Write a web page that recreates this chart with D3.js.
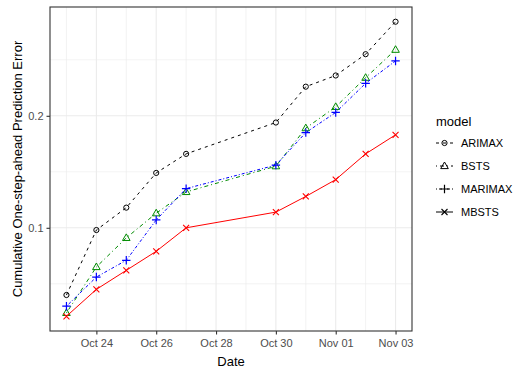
<!DOCTYPE html>
<html>
<head>
<meta charset="utf-8">
<script src="https://cdn.jsdelivr.net/npm/d3@7"></script>
<style>
  body { margin: 0; background: #fff; }
  text { font-family: Arial, "Liberation Sans", sans-serif; }
</style>
</head>
<body>
<script>
// données
const dates = ["2020-10-23", "2020-10-24", "2020-10-25", "2020-10-26", "2020-10-27",
  "2020-10-30", "2020-10-31", "2020-11-01", "2020-11-02", "2020-11-03"];
const arimax  = [0.040, 0.098, 0.118, 0.149, 0.166, 0.194, 0.226, 0.236, 0.255, 0.284];
const bsts    = [0.024, 0.065, 0.091, 0.113, 0.132, 0.155, 0.189, 0.208, 0.234, 0.259];
const marimax = [0.030, 0.056, 0.071, 0.107, 0.135, 0.156, 0.185, 0.203, 0.229, 0.249];
const mbsts   = [0.021, 0.045, 0.062, 0.079, 0.100, 0.114, 0.128, 0.143, 0.166, 0.183];
const xTicks = ["2020-10-24", "2020-10-26", "2020-10-28", "2020-10-30", "2020-11-01", "2020-11-03"];
const yTicks = [0.1, 0.2];
const yMinor = [0.05, 0.15, 0.25];

const parse = d3.utcParse("%Y-%m-%d");

const modeles = [
  { nom: "ARIMAX",  vals: arimax,  couleur: "#000000", tirets: "3,4",     forme: "cercle" },
  { nom: "BSTS",    vals: bsts,    couleur: "#008B00", tirets: "1,3,4,3", forme: "triangle" },
  { nom: "MARIMAX", vals: marimax, couleur: "#0000FF", tirets: "1,2,3,2", forme: "plus" },
  { nom: "MBSTS",   vals: mbsts,   couleur: "#FF0000", tirets: null,      forme: "croix" }
];

const W = 524, H = 373;
const panneau = { g: 50, d: 412, h: 7, b: 331 };

const svg = d3.select("body").append("svg")
  .attr("width", W).attr("height", H);

// échelles avec expansion de 5% comme ggplot
const xDom = d3.extent(dates, parse);
const xPad = (xDom[1] - xDom[0]) * 0.05;
const x = d3.scaleUtc()
  .domain([new Date(+xDom[0] - xPad), new Date(+xDom[1] + xPad)])
  .range([panneau.g, panneau.d]);

const tous = [].concat(arimax, bsts, marimax, mbsts);
const yDom = d3.extent(tous);
const yPad = (yDom[1] - yDom[0]) * 0.05;
const y = d3.scaleLinear()
  .domain([yDom[0] - yPad, yDom[1] + yPad])
  .range([panneau.b, panneau.h]);

// grille
const grille = svg.append("g");
const xMinor = d3.utcDay.range(parse("2020-10-23"), parse("2020-11-04"), 2);
grille.selectAll(".xmin").data(xMinor).enter().append("line")
  .attr("x1", d => x(d)).attr("x2", d => x(d))
  .attr("y1", panneau.h).attr("y2", panneau.b)
  .attr("stroke", "#EBEBEB").attr("stroke-width", 0.6);
grille.selectAll(".ymin").data(yMinor).enter().append("line")
  .attr("x1", panneau.g).attr("x2", panneau.d)
  .attr("y1", d => y(d)).attr("y2", d => y(d))
  .attr("stroke", "#EBEBEB").attr("stroke-width", 0.6);
grille.selectAll(".xmaj").data(xTicks.map(parse)).enter().append("line")
  .attr("x1", d => x(d)).attr("x2", d => x(d))
  .attr("y1", panneau.h).attr("y2", panneau.b)
  .attr("stroke", "#EBEBEB").attr("stroke-width", 1.1);
grille.selectAll(".ymaj").data(yTicks).enter().append("line")
  .attr("x1", panneau.g).attr("x2", panneau.d)
  .attr("y1", d => y(d)).attr("y2", d => y(d))
  .attr("stroke", "#EBEBEB").attr("stroke-width", 1.1);

// axes
const axeX = svg.append("g")
  .attr("transform", `translate(0,${panneau.b})`)
  .call(d3.axisBottom(x).tickValues(xTicks.map(parse))
    .tickFormat(d3.utcFormat("%b %d")).tickSize(3.5).tickPadding(4.5));
const axeY = svg.append("g")
  .attr("transform", `translate(${panneau.g},0)`)
  .call(d3.axisLeft(y).tickValues(yTicks).tickFormat(d3.format(".1f")).tickSize(3.5).tickPadding(3));
[axeX, axeY].forEach(a => {
  a.select(".domain").remove();
  a.selectAll(".tick line").attr("stroke", "#333333").attr("stroke-width", 1.1);
  a.selectAll(".tick text").attr("fill", "#4D4D4D").style("font-size", "11px");
});

// cadre du panneau
svg.append("rect")
  .attr("x", panneau.g).attr("y", panneau.h)
  .attr("width", panneau.d - panneau.g).attr("height", panneau.b - panneau.h)
  .attr("fill", "none").attr("stroke", "#333333").attr("stroke-width", 1.1);

// formes des points
function dessinerForme(g, forme, couleur) {
  if (forme === "cercle") {
    g.append("circle").attr("r", 2.6).attr("fill", "none")
      .attr("stroke", couleur).attr("stroke-width", 1);
  } else if (forme === "triangle") {
    g.append("path").attr("d", "M0,-4L3.8,2.6L-3.8,2.6Z").attr("fill", "none")
      .attr("stroke", couleur).attr("stroke-width", 1);
  } else if (forme === "plus") {
    g.append("path").attr("d", "M-4.2,0H4.2M0,-4.2V4.2")
      .attr("stroke", couleur).attr("stroke-width", 1.2);
  } else {
    g.append("path").attr("d", "M-3,-3L3,3M-3,3L3,-3")
      .attr("stroke", couleur).attr("stroke-width", 1.1);
  }
}

const ligne = d3.line()
  .x(d => x(d.date))
  .y(d => y(d.v));

modeles.forEach(m => {
  const pts = dates.map((d, i) => ({ date: parse(d), v: m.vals[i] }));
  svg.append("path")
    .datum(pts)
    .attr("d", ligne)
    .attr("fill", "none")
    .attr("stroke", m.couleur)
    .attr("stroke-width", 1)
    .attr("stroke-dasharray", m.tirets);
  svg.append("g").selectAll("g").data(pts).enter().append("g")
    .attr("transform", d => `translate(${x(d.date)},${y(d.v)})`)
    .each(function() { dessinerForme(d3.select(this), m.forme, m.couleur); });
});

// titres des axes
svg.append("text")
  .attr("x", (panneau.g + panneau.d) / 2).attr("y", 366)
  .attr("text-anchor", "middle").style("font-size", "13px").text("Date");
svg.append("text")
  .attr("transform", `translate(17,${(panneau.h + panneau.b) / 2}) rotate(-90)`)
  .attr("text-anchor", "middle").attr("dy", "0.35em")
  .style("font-size", "13px").text("Cumulative One-step-ahead Prediction Error");

// légende
const leg = svg.append("g").attr("transform", "translate(436,0)");
leg.append("text").attr("x", 0).attr("y", 126).style("font-size", "13px").text("model");
modeles.forEach((m, i) => {
  const cy = 143 + i * 23;
  const k = leg.append("g").attr("transform", `translate(0,${cy})`);
  k.append("line").attr("x1", 0).attr("x2", 17).attr("y1", 0).attr("y2", 0)
    .attr("stroke", "#000").attr("stroke-width", 1)
    .attr("stroke-dasharray", m.tirets);
  const f = k.append("g").attr("transform", "translate(8.5,0)");
  dessinerForme(f, m.forme, "#000");
  k.append("text").attr("x", 25).attr("y", 0).attr("dy", "0.35em")
    .style("font-size", "11px").text(m.nom);
});
</script>
</body>
</html>
